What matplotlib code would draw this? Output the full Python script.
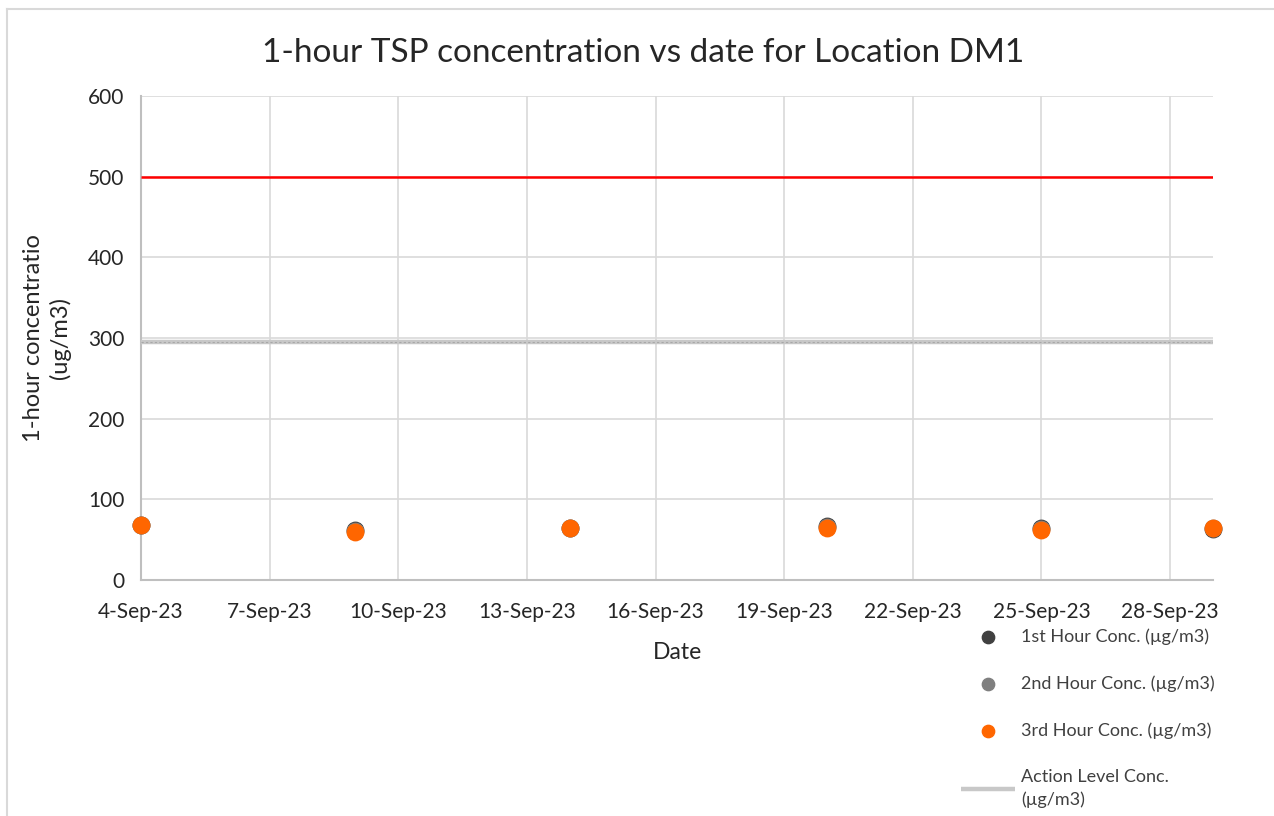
import matplotlib.pyplot as plt
import matplotlib.dates as mdates
import numpy as np
from datetime import datetime

plt.rcParams["font.family"] = ["Lato", "DejaVu Sans"]

# sampling dates and hourly TSP readings (ug/m3)
dates = ["2023-09-04", "2023-09-09", "2023-09-14", "2023-09-20", "2023-09-25", "2023-09-29"]
hour1 = [68, 62, 65, 67, 65, 63]
hour2 = [68, 61, 65, 66, 63, 64]
hour3 = [68, 60, 65, 65, 62, 65]
action_level = 295
limit_level = 500

x = [datetime.strptime(d, "%Y-%m-%d") for d in dates]

fig = plt.figure(figsize=(12.74, 8.16), dpi=100)
ax = fig.add_axes([0.1107, 0.2892, 0.9521 - 0.1107, 0.8824 - 0.2892])

# outer chart border (only left and top fall inside the frame)
fig.add_artist(plt.Line2D([7 / 1274, 7 / 1274], [0, 1 - 9 / 816], color="#d9d9d9", lw=1.5))
fig.add_artist(plt.Line2D([7 / 1274, 1], [1 - 9 / 816, 1 - 9 / 816], color="#d9d9d9", lw=1.5))

x0, x1 = datetime(2023, 9, 4), datetime(2023, 9, 29)
ax.plot([x0, x1], [action_level, action_level], color="#c8c8c8", lw=3.2, solid_capstyle="butt",
        label="Action Level Conc.\n(µg/m3)", zorder=3)
ax.plot([x0, x1], [action_level, action_level], color="#a8a8a8", lw=0.8, ls=(0, (2, 2)), zorder=3)
ax.plot([x0, x1], [limit_level, limit_level], color="#ff0000", lw=1.8, solid_capstyle="butt", zorder=3)

ax.scatter(x, hour1, s=140, color="#404040", label="1st Hour Conc. (µg/m3)", zorder=4, clip_on=False)
ax.scatter(x, hour2, s=140, color="#7f7f7f", label="2nd Hour Conc. (µg/m3)", zorder=5, clip_on=False)
ax.scatter(x, hour3, s=140, color="#ff6600", label="3rd Hour Conc. (µg/m3)", zorder=6, clip_on=False)

ax.set_xlim(x0, x1)
ax.set_ylim(0, 600)
ax.set_yticks(np.arange(0, 601, 100))
ax.xaxis.set_major_locator(mdates.DayLocator(bymonthday=[4, 7, 10, 13, 16, 19, 22, 25, 28]))
ax.xaxis.set_major_formatter(mdates.DateFormatter("%-d-%b-%y"))
ax.grid(True, color="#d9d9d9", lw=1.2)
ax.set_axisbelow(True)
for side in ["top", "right"]:
    ax.spines[side].set_visible(False)
for side in ["left", "bottom"]:
    ax.spines[side].set_color("#bfbfbf")
    ax.spines[side].set_linewidth(1.5)
ax.tick_params(length=0, labelsize=15, labelcolor="#262626")
ax.tick_params(axis="x", pad=16)
ax.tick_params(axis="y", pad=12)

# title centred on the whole chart area
fig.text(643 / 1274, 1 - 53 / 816, "1-hour TSP concentration vs date for Location DM1",
         ha="center", va="center", fontsize=24, color="#262626")
ax.set_xlabel("Date", fontsize=16.5, color="#262626", labelpad=14)
ax.set_ylabel("1-hour concentratio\n(ug/m3)", fontsize=17, color="#262626", labelpad=12, linespacing=1.3)

handles, labels = ax.get_legend_handles_labels()
order = [1, 2, 3, 0]
leg = fig.legend([handles[i] for i in order], [labels[i] for i in order],
                 loc="upper left", bbox_to_anchor=(945 / 1274, 1 - 612 / 816),
                 frameon=False, fontsize=13, labelspacing=1.68, handlelength=3.0,
                 handletextpad=0.3, markerscale=0.75, labelcolor="#404040")
leg.get_texts()[-1].set_linespacing(1.5)

fig.savefig("out.png", dpi=100, facecolor="white")
